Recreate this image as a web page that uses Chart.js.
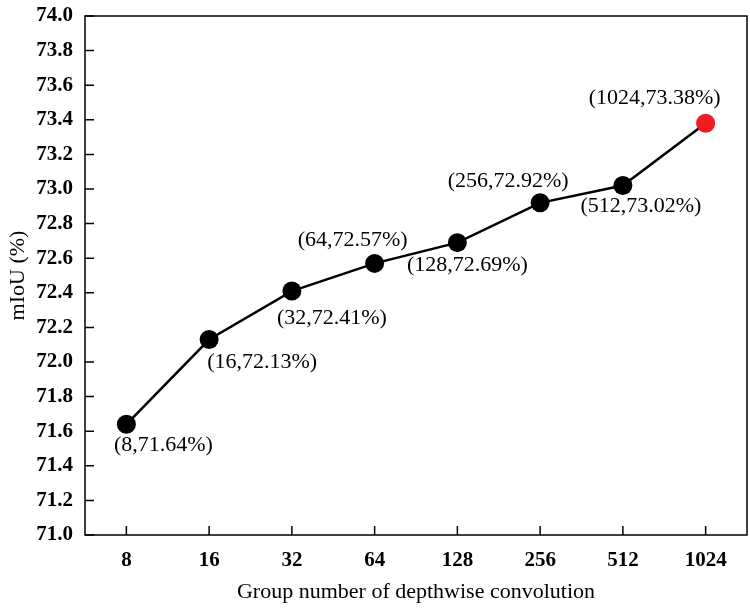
<!DOCTYPE html>
<html>
<head>
<meta charset="utf-8">
<script src="https://cdn.jsdelivr.net/npm/chart.js@4"></script>
<style>
  html, body { margin: 0; padding: 0; background: #fff; overflow: hidden; }
  #wrap { width: 750px; height: 610px; }
  canvas { display: block; }
</style>
</head>
<body>
<div id="wrap"><canvas id="groupChart"></canvas></div>
<script>
// data
const groupNumbers = ['8', '16', '32', '64', '128', '256', '512', '1024'];
const miouValues = [71.64, 72.13, 72.41, 72.57, 72.69, 72.92, 73.02, 73.38];
const pointLabels = ['(8,71.64%)', '(16,72.13%)', '(32,72.41%)', '(64,72.57%)',
                     '(128,72.69%)', '(256,72.92%)', '(512,73.02%)', '(1024,73.38%)'];

const serif = "'Liberation Serif', 'Times New Roman', serif";

// where each annotation sits relative to its point (dx, dy)
const labelOffsets = [[37, 21], [53, 23], [40, 27], [-22, -23], [10, 23], [-32, -22], [18, 21], [-51, -25]];

const pointColors = miouValues.map((v, i) => i === miouValues.length - 1 ? '#ee1c25' : '#000');

const framePlugin = {
    id: 'frame',
    afterDraw(chart) {
        const ctx = chart.ctx;
        const a = chart.chartArea;
        ctx.save();
        ctx.strokeStyle = '#000';
        ctx.lineWidth = 1.5;
        ctx.strokeRect(a.left, a.top, a.right - a.left, a.bottom - a.top);
        // inward ticks
        ctx.beginPath();
        chart.scales.y.ticks.forEach((t) => {
            const py = chart.scales.y.getPixelForValue(t.value);
            ctx.moveTo(a.left, py);
            ctx.lineTo(a.left + 9, py);
        });
        chart.scales.x.ticks.forEach((t, i) => {
            const px = chart.scales.x.getPixelForTick(i);
            ctx.moveTo(px, a.bottom);
            ctx.lineTo(px, a.bottom - 9);
        });
        ctx.stroke();
        ctx.restore();
    }
};

const labelPlugin = {
    id: 'pointText',
    afterDatasetsDraw(chart) {
        const ctx = chart.ctx;
        const meta = chart.getDatasetMeta(0);
        ctx.save();
        ctx.font = '22px ' + serif;
        ctx.fillStyle = '#000';
        ctx.textAlign = 'center';
        ctx.textBaseline = 'middle';
        meta.data.forEach((pt, i) => {
            const off = labelOffsets[i];
            ctx.fillText(pointLabels[i], pt.x + off[0], pt.y + off[1]);
        });
        ctx.restore();
    }
};

new Chart(document.getElementById('groupChart'), {
    type: 'line',
    data: {
        labels: groupNumbers,
        datasets: [{
            data: miouValues,
            borderColor: '#000',
            borderWidth: 2.5,
            pointRadius: 9.5,
            pointHoverRadius: 9.5,
            pointBackgroundColor: pointColors,
            pointBorderColor: pointColors,
            pointBorderWidth: 0,
            tension: 0
        }]
    },
    options: {
        responsive: true,
        maintainAspectRatio: false,
        animation: false,
        layout: { autoPadding: false, padding: { top: 16, right: 3, left: 0, bottom: 0 } },
        plugins: {
            legend: { display: false },
            tooltip: { enabled: false }
        },
        scales: {
            x: {
                offset: true,
                grid: { display: false, drawTicks: false },
                border: { display: false },
                ticks: {
                    padding: 13,
                    color: '#000',
                    font: { family: serif, size: 21, weight: 'bold' }
                },
                title: {
                    display: true,
                    text: 'Group number of depthwise convolution',
                    color: '#000',
                    font: { family: serif, size: 22 },
                    padding: { top: 0, bottom: 5 }
                },
                afterFit(scale) {
                    scale.height = 75;
                    scale.paddingLeft = 0;
                    scale.paddingRight = 0;
                }
            },
            y: {
                min: 71.0,
                max: 74.0,
                grid: { display: false, drawTicks: false },
                border: { display: false },
                ticks: {
                    stepSize: 0.2,
                    padding: 12,
                    color: '#000',
                    font: { family: serif, size: 21, weight: 'bold' },
                    callback: (v) => v.toFixed(1)
                },
                title: {
                    display: true,
                    text: 'mIoU (%)',
                    color: '#000',
                    font: { family: serif, size: 22 },
                    padding: { top: 5, bottom: 0 }
                },
                afterFit(scale) {
                    scale.width = 85;
                    scale.paddingTop = 0;
                    scale.paddingBottom = 0;
                }
            }
        }
    },
    plugins: [framePlugin, labelPlugin]
});
</script>
</body>
</html>
